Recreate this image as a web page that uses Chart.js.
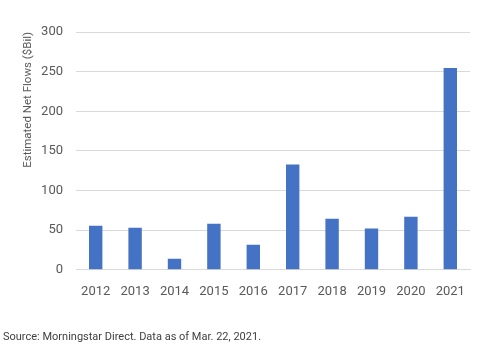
<!DOCTYPE html>
<html>
<head>
<meta charset="utf-8">
<script src="https://cdn.jsdelivr.net/npm/chart.js@4"></script>
<style>
  html, body { margin: 0; padding: 0; background: #fff; }
  #wrap { position: relative; width: 486px; height: 348px; }
</style>
</head>
<body>
<div id="wrap"><canvas id="flows" width="486" height="348"></canvas></div>
<script>
const years = ['2012', '2013', '2014', '2015', '2016', '2017', '2018', '2019', '2020', '2021'];
const netFlows = [55.5, 53, 14, 58, 31.5, 133, 64.5, 52, 67, 254.5];
const yTicks = [0, 50, 100, 150, 200, 250, 300];

const fontFam = "'Roboto', sans-serif";

const ctx = document.getElementById('flows');

new Chart(ctx, {
  type: 'bar',
  data: {
    labels: years,
    datasets: [{
      label: 'Estimated Net Flows ($Bil)',
      data: netFlows,
      backgroundColor: '#4472C4',
      categoryPercentage: 1,
      barPercentage: 0.34
    }]
  },
  options: {
    responsive: false,
    animation: false,
    layout: { padding: { left: 3, right: 16, top: 32, bottom: 4 } },
    plugins: {
      legend: { display: false },
      tooltip: { enabled: false },
      title: {
        display: true,
        position: 'bottom',
        align: 'start',
        text: 'Source: Morningstar Direct. Data as of Mar. 22, 2021.',
        color: '#404040',
        font: { family: fontFam, size: 11, weight: 'normal' },
        padding: { top: 32, bottom: 0 },
        fullSize: true
      }
    },
    scales: {
      x: {
        afterFit: s => { s.height = 29; },
        grid: { display: false },
        border: { color: '#d9d9d9' },
        ticks: { color: '#595959', font: { family: fontFam, size: 13 }, padding: 6 }
      },
      y: {
        min: 0,
        max: 300,
        afterFit: s => { s.width = 73; },
        afterBuildTicks: s => { s.ticks = yTicks.map(v => ({ value: v })); },
        grid: { color: '#d9d9d9', drawTicks: false },
        border: { display: false },
        ticks: { color: '#595959', font: { family: fontFam, size: 13 }, padding: 13 },
        title: {
          display: true,
          align: 'end',
          text: 'Estimated Net Flows ($Bil)',
          color: '#595959',
          font: { family: fontFam, size: 11.5 },
          padding: { top: 18, bottom: 0 }
        }
      }
    }
  }
});
</script>
</body>
</html>
